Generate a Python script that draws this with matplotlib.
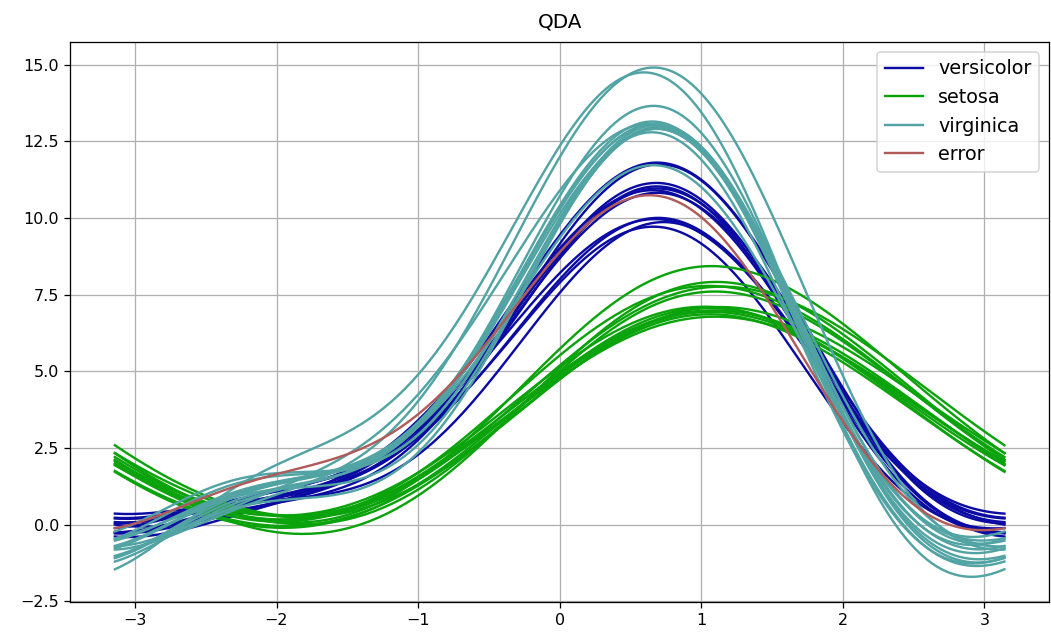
import matplotlib
matplotlib.use("Agg")
import matplotlib.pyplot as plt
import numpy as np

# iris test samples: sepal length, sepal width, petal length, petal width
versicolor = [
    [6.7, 3.1, 4.7, 1.5],
    [6.0, 2.9, 4.5, 1.5],
    [5.8, 2.7, 4.1, 1.0],
    [6.4, 2.9, 4.3, 1.3],
    [6.3, 3.3, 4.7, 1.6],
    [6.1, 2.8, 4.7, 1.2],
    [5.5, 2.3, 4.0, 1.3],
    [6.1, 3.0, 4.6, 1.4],
    [5.8, 2.7, 3.9, 1.2],
    [6.2, 2.9, 4.3, 1.3],
    [5.6, 2.9, 3.6, 1.3],
]
setosa = [
    [5.1, 3.8, 1.5, 0.3],
    [4.8, 3.0, 1.4, 0.1],
    [5.7, 3.8, 1.7, 0.3],
    [4.9, 3.1, 1.5, 0.1],
    [5.5, 3.5, 1.3, 0.2],
    [5.0, 3.0, 1.6, 0.2],
    [5.4, 3.4, 1.7, 0.2],
    [5.0, 3.2, 1.2, 0.2],
    [4.6, 3.1, 1.5, 0.2],
    [4.7, 3.2, 1.6, 0.2],
    [4.9, 3.0, 1.4, 0.2],
    [5.1, 3.5, 1.4, 0.3],
]
virginica = [
    [7.9, 3.8, 6.4, 2.0],
    [6.5, 3.0, 5.8, 2.2],
    [7.7, 2.6, 6.9, 2.3],
    [6.8, 3.0, 5.5, 2.1],
    [6.8, 3.2, 5.9, 2.3],
    [6.9, 3.1, 5.4, 2.1],
    [6.4, 3.2, 5.3, 2.3],
    [6.3, 2.7, 4.9, 1.8],
    [6.2, 3.4, 5.4, 2.3],
    [6.4, 2.8, 5.6, 2.2],
    [7.2, 3.0, 5.8, 1.6],
    [6.9, 3.1, 5.1, 2.3],
    [6.7, 3.0, 5.2, 2.3],
]
error = [
    [6.2, 2.2, 4.5, 1.5],
]

groups = [("versicolor", versicolor, "#0b0ba3"),
          ("setosa", setosa, "#0ba30b"),
          ("virginica", virginica, "#52a3a3"),
          ("error", error, "#b05a5a")]

t = np.linspace(-np.pi, np.pi, 200)


def andrews(row):
    # f(t) = x1/sqrt(2) + x2 sin(t) + x3 cos(t) + x4 sin(2t)
    y = row[0] / np.sqrt(2.0)
    for i in range(1, len(row)):
        k = (i + 1) // 2
        y = y + row[i] * (np.sin(k * t) if i % 2 == 1 else np.cos(k * t))
    return y


fig = plt.figure(figsize=(1051 / 115, 638 / 115), dpi=115)
ax = fig.add_subplot(111)
fig.subplots_adjust(left=0.067, right=0.998, top=0.934, bottom=0.056)

for name, rows, col in groups:
    for j, row in enumerate(rows):
        ax.plot(t, andrews(row), color=col, label=name if j == 0 else None)

ax.legend(loc="upper right", fontsize=12)
ax.grid()
ax.set_title("QDA", fontsize=12.5, pad=9)

fig.savefig("out.png", dpi=115)
